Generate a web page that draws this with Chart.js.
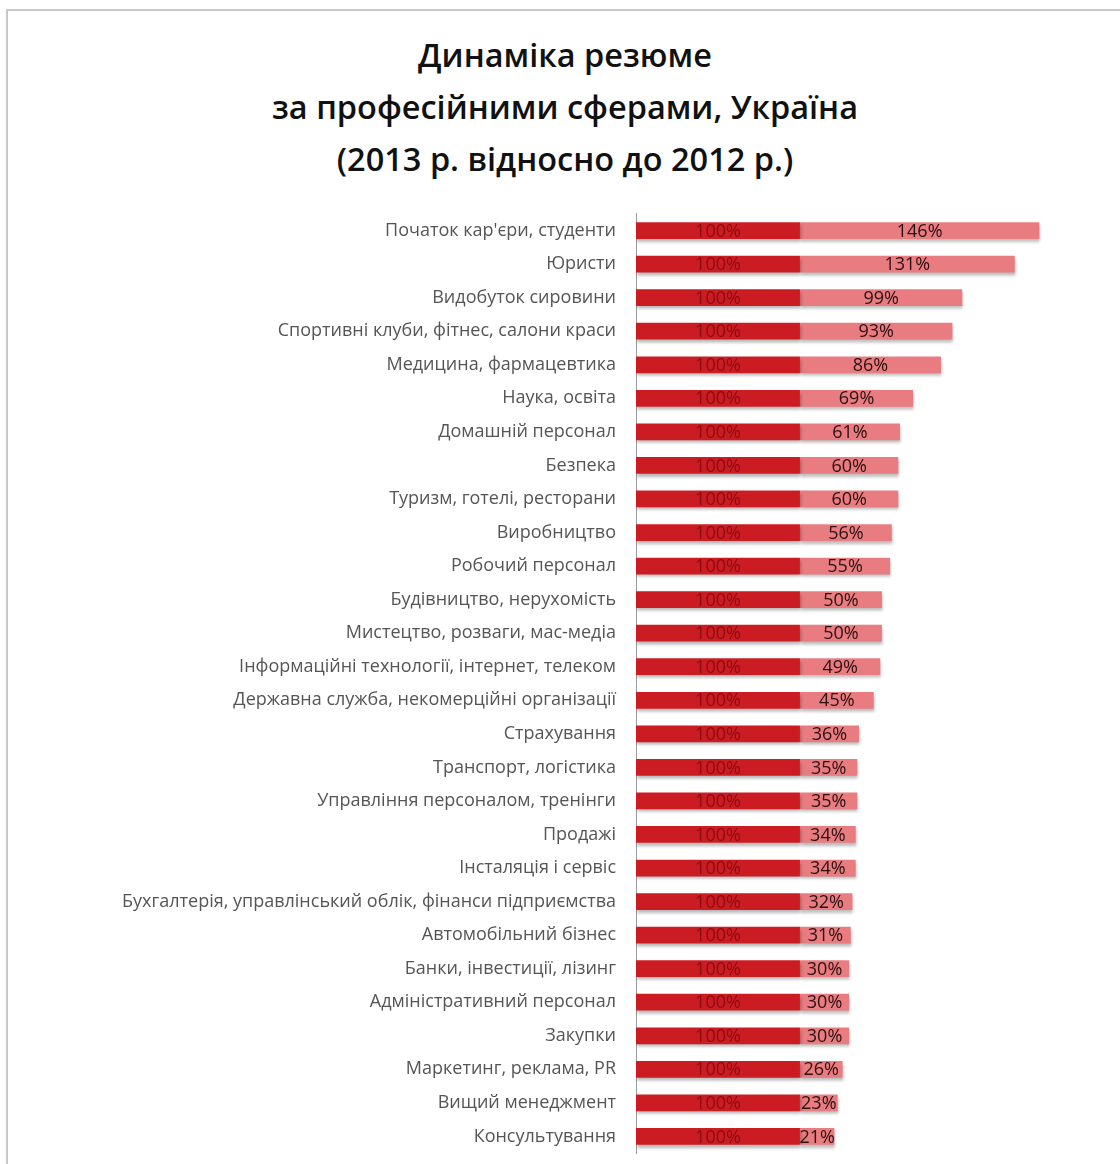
<!DOCTYPE html>
<html>
<head>
<meta charset="utf-8">
<script src="https://cdn.jsdelivr.net/npm/chart.js@4"></script>
<style>
  html, body { margin: 0; padding: 0; background: #fff; }
  body { width: 1120px; height: 1164px; position: relative; overflow: hidden; }
  .frame { position: absolute; left: 6px; top: 9px; right: -5px; bottom: -5px;
           border-top: 2px solid #c8c8c8; border-left: 2px solid #c8c8c8; }
  .title { position: absolute; left: 0; width: 1130px; top: 29px; text-align: center;
           font-family: "Open Sans", sans-serif; font-weight: 600; font-size: 32.5px;
           line-height: 52px; color: #111; }
  #wrap { position: absolute; left: 0; top: 191px; width: 1120px; height: 985px; }
</style>
</head>
<body>
<div class="frame"></div>
<div class="title">Динаміка резюме<br>за професійними сферами, Україна<br>(2013 р. відносно до 2012 р.)</div>
<div id="wrap"><canvas id="chart"></canvas></div>
<script>
/* ── дані ── */
var categories = [
  "Початок кар'єри, студенти", 'Юристи', 'Видобуток сировини',
  'Спортивні клуби, фітнес, салони краси', 'Медицина, фармацевтика', 'Наука, освіта',
  'Домашній персонал', 'Безпека', 'Туризм, готелі, ресторани', 'Виробництво',
  'Робочий персонал', 'Будівництво, нерухомість', 'Мистецтво, розваги, мас-медіа',
  'Інформаційні технології, інтернет, телеком', 'Державна служба, некомерційні організації',
  'Страхування', 'Транспорт, логістика', 'Управління персоналом, тренінги', 'Продажі',
  'Інсталяція і сервіс', 'Бухгалтерія, управлінський облік, фінанси підприємства',
  'Автомобільний бізнес', 'Банки, інвестиції, лізинг', 'Адміністративний персонал',
  'Закупки', 'Маркетинг, реклама, PR', 'Вищий менеджмент', 'Консультування'
];
var base2012 = [100, 100, 100, 100, 100, 100, 100, 100, 100, 100, 100, 100, 100, 100,
                100, 100, 100, 100, 100, 100, 100, 100, 100, 100, 100, 100, 100, 100];
var growth2013 = [146, 131, 99, 93, 86, 69, 61, 60, 60, 56, 55, 50, 50, 49,
                  45, 36, 35, 35, 34, 34, 32, 31, 30, 30, 30, 26, 23, 21];

// тінь під смугами
var barShadow = {
  id: 'barShadow',
  beforeDatasetDraw: function(chart) {
    var c = chart.ctx;
    c.save();
    c.shadowColor = 'rgba(0,0,0,0.28)';
    c.shadowBlur = 3;
    c.shadowOffsetX = 1;
    c.shadowOffsetY = 3;
  },
  afterDatasetDraw: function(chart) { chart.ctx.restore(); }
};

// підписи у центрі сегментів
var segLabels = {
  id: 'segLabels',
  afterDatasetsDraw: function(chart) {
    var c = chart.ctx;
    c.save();
    c.font = '18px "Open Sans", sans-serif';
    c.textAlign = 'center';
    c.textBaseline = 'middle';
    chart.data.datasets.forEach(function(ds, di) {
      chart.getDatasetMeta(di).data.forEach(function(bar, i) {
        var p = bar.getProps(['x', 'y', 'base'], true);
        c.fillStyle = di === 0 ? '#8a0c10' : '#2a1010';
        c.fillText(ds.data[i] + '%', (p.x + p.base) / 2, p.y + 1);
      });
    });
    c.restore();
  }
};

new Chart(document.getElementById('chart').getContext('2d'), {
  type: 'bar',
  data: {
    labels: categories,
    datasets: [{
      label: '2012',
      data: base2012,
      backgroundColor: '#cc1c23',
      barPercentage: 0.5, categoryPercentage: 1
    }, {
      label: '2013',
      data: growth2013,
      backgroundColor: '#e87c80',
      barPercentage: 0.5, categoryPercentage: 1
    }]
  },
  options: {
    indexAxis: 'y',
    responsive: true,
    maintainAspectRatio: false,
    animation: false,
    layout: { padding: { top: 0, bottom: 0, left: 0, right: 20 } },
    plugins: { legend: { display: false }, tooltip: { enabled: false } },
    scales: {
      x: { stacked: true, display: false, min: 0, max: 283 },
      y: {
        stacked: true,
        grid: { display: false },
        border: { display: true, color: '#9a9a9a', width: 1 },
        ticks: { color: '#555555', padding: 12, font: { family: '"Open Sans", sans-serif', size: 18 } },
        afterFit: function(s) { s.width = 636; }
      }
    }
  },
  plugins: [barShadow, segLabels]
});
</script>
</body>
</html>
